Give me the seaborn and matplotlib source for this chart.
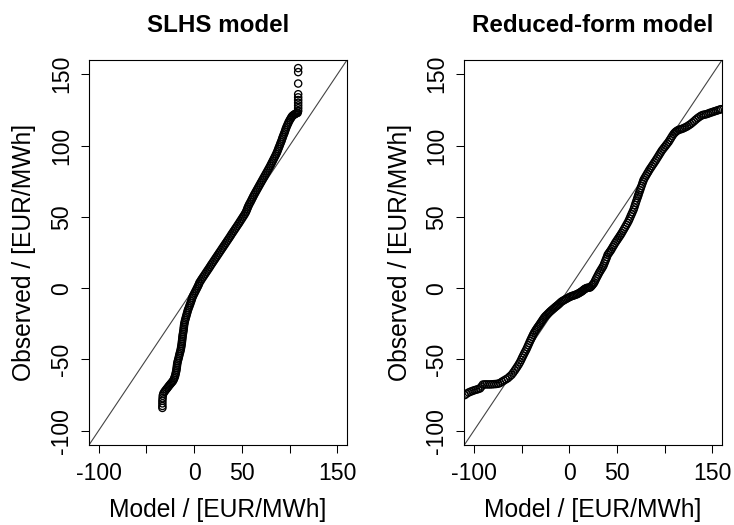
import matplotlib
matplotlib.use("Agg")
import matplotlib.pyplot as plt
import seaborn as sns
import pandas as pd

# ---- quantile pairs (model quantile, observed quantile), EUR/MWh ----
slhs_model = [
    -33.2, -33.2, -33.2, -33.2, -33.0, -32.8, -32.2, -31.2, -30.2, -29.2,
    -28.2, -27.2, -26.2, -25.2, -24.2, -23.2, -22.2, -21.4, -20.7, -20.1,
    -19.6, -19.2, -18.8, -18.5, -18.2, -18.0, -17.8, -17.5, -17.1, -16.6,
    -16.1, -15.7, -15.3, -14.8, -14.3, -13.9, -13.6, -13.3, -13.0, -12.8,
    -12.6, -12.4, -12.2, -12.0, -11.7, -11.4, -11.1, -10.9, -10.7, -10.5,
    -10.2, -9.8, -9.4, -8.9, -8.4, -7.9, -7.4, -6.9, -6.4,
    -5.7, -5.0, -4.4, -3.7, -3.1, -2.5, -1.9, -1.2, -0.3, 0.6,
    1.5, 2.4, 3.3, 4.2, 5.0, 5.7, 6.9, 8.0, 9.2, 10.4,
    11.6, 12.8, 14.0, 15.2, 16.4, 17.5, 18.7, 19.9, 21.1, 22.3,
    23.5, 24.7, 25.9, 27.1, 28.3, 29.5, 30.7, 31.9, 33.1, 34.3,
    35.5, 36.7, 37.9, 39.0, 40.2, 41.4, 42.6, 43.8, 45.0, 46.2,
    47.4, 48.5, 49.7, 50.8, 52.0, 53.1, 54.1, 54.9, 55.6, 56.3,
    57.1, 58.0, 59.0, 59.9, 60.8, 61.7, 62.6, 63.6, 64.6, 65.6,
    66.6, 67.6, 68.6, 69.6, 70.6, 71.6, 72.6, 73.6, 74.6, 75.6,
    76.6, 77.6, 78.6, 79.6, 80.5, 81.4, 82.3, 83.2, 84.1, 85.0,
    85.9, 86.7, 87.4, 88.1, 88.8, 89.5, 90.2, 90.9, 91.6, 92.2,
    92.8, 93.5, 94.2, 94.9, 95.5, 96.1, 96.8, 97.6, 98.4, 99.2,
    100.2, 101.1, 101.9, 102.6, 103.6, 104.6, 105.6, 106.6, 107.6, 108.4,
    108.9, 108.9, 108.9, 108.9, 108.9, 108.9, 108.9, 108.9, 108.9, 108.9,
]
slhs_obs = [
    -84.0, -82.6, -80.8, -79.0, -77.2, -75.4, -73.9, -72.8, -71.9, -71.0,
    -70.2, -69.3, -68.4, -67.6, -66.8, -66.0, -65.2, -64.2, -63.1, -62.0,
    -60.8, -59.6, -58.4, -57.2, -56.0, -54.8, -53.6, -52.4, -51.2, -50.0,
    -48.8, -47.6, -46.4, -45.2, -44.0, -42.8, -41.6, -40.4, -39.2, -38.0,
    -36.8, -35.6, -34.4, -33.2, -32.0, -30.8, -29.6, -28.4, -27.2, -26.0,
    -24.8, -23.6, -22.4, -21.2, -20.0, -18.8, -17.6, -16.4, -15.2,
    -14.0, -12.8, -11.6, -10.4, -9.2, -8.0, -6.8, -5.6, -4.4, -3.2,
    -2.0, -0.8, 0.4, 1.6, 2.8, 4.0, 5.2, 6.4, 7.6, 8.8,
    10.0, 11.2, 12.4, 13.6, 14.8, 16.0, 17.2, 18.4, 19.6, 20.8,
    22.0, 23.2, 24.4, 25.6, 26.8, 28.0, 29.2, 30.4, 31.6, 32.8,
    34.0, 35.2, 36.4, 37.6, 38.8, 40.0, 41.2, 42.4, 43.6, 44.8,
    46.0, 47.2, 48.4, 49.6, 50.8, 52.0, 53.2, 54.4, 55.6, 56.8,
    58.0, 59.2, 60.4, 61.6, 62.8, 64.0, 65.2, 66.4, 67.6, 68.8,
    70.0, 71.2, 72.4, 73.6, 74.8, 76.0, 77.2, 78.4, 79.6, 80.8,
    82.0, 83.2, 84.4, 85.6, 86.8, 88.0, 89.2, 90.4, 91.6, 92.8,
    94.0, 95.2, 96.4, 97.6, 98.8, 100.0, 101.2, 102.4, 103.6, 104.8,
    106.0, 107.2, 108.4, 109.6, 110.8, 112.0, 113.2, 114.4, 115.6, 116.8,
    118.0, 119.0, 119.9, 120.6, 121.2, 121.7, 122.1, 122.5, 122.8, 123.0,
    124.3, 126.2, 128.1, 130.0, 131.9, 133.8, 136.0, 143.5, 151.5, 154.3,
]

rf_model = [
    -109.5, -107.5, -105.5, -103.5, -101.5, -99.5, -97.5, -95.5, -93.5, -92.0,
    -90.5, -88.5, -86.5, -84.5, -82.5, -80.5, -78.5, -76.5, -74.5, -72.5,
    -70.5, -68.5, -66.5, -64.5, -62.5, -60.5, -58.8, -57.2, -55.8, -54.4,
    -53.0, -51.7, -50.5, -49.4, -48.3, -47.2, -46.1, -45.0, -44.0, -43.0,
    -42.0, -41.0, -40.0, -39.0, -38.0, -37.0, -36.0, -35.0, -34.0, -33.0,
    -32.0, -31.0, -30.0, -29.0, -28.0, -27.0, -26.0, -25.0,
    -23.8, -22.6, -21.4, -20.2, -19.0, -17.8, -16.6, -15.4, -14.2, -13.0,
    -11.8, -10.6, -9.4, -8.0, -6.5, -5.0, -3.5, -2.0, -0.5, 1.0,
    2.4, 3.8, 5.2, 6.6, 8.0, 9.3, 10.6, 11.9, 13.0, 14.0,
    15.0, 16.0, 17.0, 18.2, 19.5, 20.7, 21.8, 23.0, 24.1, 25.2,
    26.2, 27.2, 28.2, 29.3, 30.4, 31.5, 32.6, 33.7, 34.8, 35.8,
    36.7, 37.6, 38.5, 39.4, 40.2, 41.3, 42.3, 43.4, 44.4, 45.6,
    46.8, 48.0, 49.2, 50.4, 51.6, 52.8, 53.9, 55.0, 56.2, 57.4,
    58.6, 59.8, 61.0, 62.2, 63.2, 64.2, 65.2, 66.2, 67.3, 68.1,
    68.9, 69.7, 70.5, 71.3, 72.0, 72.5, 73.3, 74.1, 74.9, 75.7,
    76.5, 77.3, 78.0, 79.2, 80.4, 81.6, 82.8, 84.0, 85.3, 86.6,
    87.9, 89.2, 90.5, 91.8, 93.1, 94.4, 95.7, 97.0, 98.4, 99.8,
    101.2, 102.6, 104.0, 105.3, 106.6, 108.0, 109.4, 110.6, 111.8, 113.0,
    114.5, 116.2, 118.0, 119.8, 121.6, 123.4, 125.2, 127.0, 128.8, 130.6,
    132.4, 134.2, 136.0, 137.8, 139.6, 141.4, 143.2, 145.0, 146.8, 148.6,
    150.4, 152.2, 154.0, 155.8, 157.6, 159.0,
]
rf_obs = [
    -75.0, -74.0, -73.2, -72.6, -72.1, -71.6, -71.2, -70.8, -70.3, -69.0,
    -67.6, -67.5, -67.5, -67.5, -67.5, -67.4, -67.3, -67.2, -67.0, -66.5,
    -65.6, -64.8, -64.0, -63.2, -62.0, -60.8, -59.3, -57.8, -56.4, -55.0,
    -53.5, -52.0, -50.4, -48.8, -47.3, -45.8, -44.4, -43.0, -41.5, -40.0,
    -38.5, -37.0, -35.6, -34.2, -32.8, -31.5, -30.4, -29.3, -28.3, -27.3,
    -26.4, -25.4, -24.4, -23.4, -22.4, -21.4, -20.5, -19.7,
    -18.9, -18.1, -17.3, -16.5, -15.8, -15.1, -14.4, -13.7, -13.0, -12.4,
    -11.7, -11.0, -10.2, -9.4, -8.8, -8.2, -7.6, -7.1, -6.5, -6.0,
    -5.6, -5.3, -5.0, -4.6, -4.3, -3.8, -3.3, -2.8, -2.3, -1.8,
    -1.2, -0.7, -0.3, 0.1, 0.3, 0.4, 0.5, 1.2, 2.1, 3.0,
    4.0, 5.4, 6.8, 8.2, 9.6, 11.0, 12.2, 13.4, 14.6, 15.8,
    17.3, 18.8, 20.3, 21.8, 23.4, 24.4, 25.4, 26.4, 27.5, 28.9,
    30.2, 31.6, 32.8, 34.0, 35.2, 36.4, 37.5, 38.7, 40.1, 41.5,
    42.9, 44.3, 45.7, 47.2, 48.7, 50.3, 51.8, 53.3, 55.0, 56.6,
    58.3, 59.9, 61.5, 63.1, 64.5, 65.6, 67.1, 68.6, 70.2, 71.7,
    73.3, 74.8, 76.1, 77.5, 78.9, 80.3, 81.6, 83.0, 84.3, 85.6,
    86.9, 88.2, 89.5, 90.9, 92.3, 93.7, 95.1, 96.5, 97.7, 98.9,
    100.1, 101.3, 102.5, 103.9, 105.3, 106.8, 108.2, 109.1, 109.8, 110.4,
    111.0, 111.3, 111.7, 112.2, 112.8, 113.4, 114.2, 115.0, 116.0, 117.0,
    118.1, 119.1, 120.0, 120.8, 121.4, 121.7, 121.9, 122.3, 122.8, 123.2,
    123.6, 124.0, 124.4, 124.8, 125.2, 125.5,
]

panel_titles = ["SLHS model", "Reduced-form model"]
axis_ticks = [-100, -50, 0, 50, 100, 150]
x_tick_labels = ["-100", "", "0", "50", "", "150"]
y_tick_labels = ["-100", "-50", "0", "50", "100", "150"]
x_title = "Model / [EUR/MWh]"
y_title = "Observed / [EUR/MWh]"
axis_limits = (-110, 160)

sns.set_theme(style="ticks")
plt.rcParams["font.family"] = ["Liberation Sans", "DejaVu Sans"]

fig = plt.figure(figsize=(7.34, 5.25), dpi=100)
W, H = 734, 525
ax_left = fig.add_axes([89 / W, 80 / H, 258 / W, 385 / H])
ax_right = fig.add_axes([464.3 / W, 80 / H, 257.7 / W, 385 / H])

panels = [
    (ax_left, pd.DataFrame({"model": slhs_model, "observed": slhs_obs})),
    (ax_right, pd.DataFrame({"model": rf_model, "observed": rf_obs})),
]

for (ax, df), title in zip(panels, panel_titles):
    sns.scatterplot(
        data=df, x="model", y="observed", ax=ax,
        marker="o", s=27, facecolors="none", edgecolor="black",
        linewidth=0.95, legend=False, zorder=3,
    )
    # identity reference line
    ax.axline((0, 0), slope=1, color="#444444", linewidth=0.8, zorder=2)

    ax.set_xlim(*axis_limits)
    ax.set_ylim(*axis_limits)
    ax.set_xticks(axis_ticks, labels=x_tick_labels)
    ax.set_yticks(axis_ticks, labels=y_tick_labels, rotation=90, va="center")
    ax.tick_params(axis="both", direction="out", length=6, width=0.75,
                   color="black", labelsize=16.6, labelcolor="black")
    ax.tick_params(axis="x", pad=6.6)
    ax.tick_params(axis="y", pad=5.4)

    for sp in ax.spines.values():
        sp.set_visible(True)
        sp.set_color("black")
        sp.set_linewidth(0.8)

    ax.set_xlabel(x_title, fontsize=17.7, color="black")
    ax.set_ylabel(y_title, fontsize=17.7, color="black")
    ax.xaxis.set_label_coords(0.5, -0.138)
    ax.yaxis.set_label_coords(-0.2046, 0.5)
    ax.set_title(title, fontsize=17.4, fontweight="bold", pad=20.4, color="black")
    ax.set_facecolor("white")

fig.savefig("out.png", dpi=100, facecolor="white")
